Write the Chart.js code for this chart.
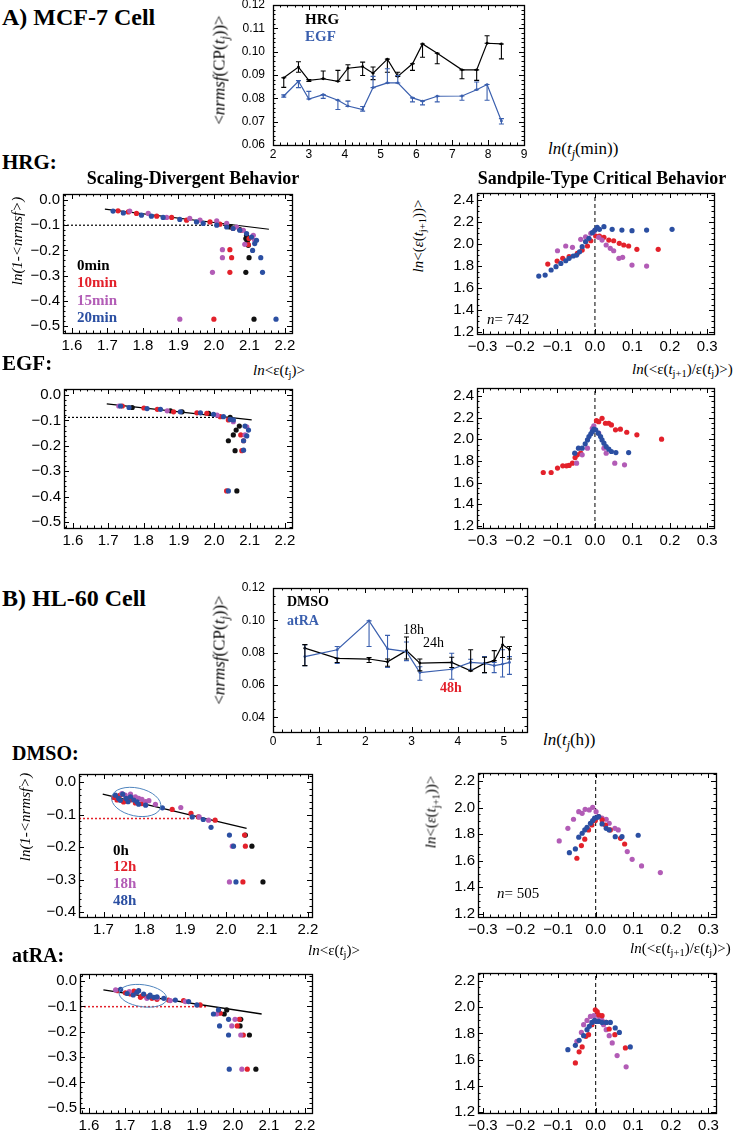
<!DOCTYPE html>
<html><head><meta charset="utf-8">
<script src="https://cdn.jsdelivr.net/npm/chart.js@4.4.1/dist/chart.umd.min.js"></script>
<style>
html,body{margin:0;padding:0;background:#fff;}
#page{position:relative;width:742px;height:1132px;overflow:hidden;background:#fff;}
.t{position:absolute;white-space:nowrap;font-family:"Liberation Serif","Times New Roman",serif;line-height:1;color:#000;}
.t sub{font-size:70%;vertical-align:-0.35em;line-height:0;}
</style></head><body><div id="page"></div>
<script>
// ---------- DATA ----------
// A) MCF-7 top panel
const aTime = [2.30,2.71,3.00,3.40,3.81,4.09,4.50,4.79,5.19,5.48,5.89,6.17,6.58,7.27,7.68,7.97,8.37];
const aHRG   = [0.0888,0.0934,0.0877,0.0884,0.0873,0.0929,0.0936,0.0908,0.0968,0.0894,0.0948,0.1033,0.0993,0.0922,0.0922,0.1036,0.1033];
const aHRGlo = [0.0847,0.0912,0.0872,0.0884,0.0873,0.0877,0.0898,0.0880,0.0912,0.0894,0.0920,0.0976,0.0948,0.0884,0.0877,0.1036,0.0969];
const aHRGhi = [0.0888,0.0957,0.0880,0.0917,0.0920,0.0944,0.0955,0.0934,0.0968,0.0912,0.0948,0.1033,0.0993,0.0922,0.0922,0.1068,0.1033];
const aEGF   = [0.0810,0.0873,0.0797,0.0816,0.0792,0.0767,0.0752,0.0846,0.0866,0.0866,0.0802,0.0788,0.0809,0.0810,0.0837,0.0859,0.0703];
const aEGFlo = [0.0805,0.0846,0.0797,0.0800,0.0752,0.0765,0.0745,0.0846,0.0866,0.0866,0.0785,0.0772,0.0785,0.0792,0.0837,0.0792,0.0690];
const aEGFhi = [0.0815,0.0876,0.0830,0.0816,0.0792,0.0788,0.0765,0.0894,0.0927,0.0898,0.0802,0.0788,0.0809,0.0810,0.0870,0.0859,0.0713];
const aXTicks = [2,3,4,5,6,7,8,9];
const aYTicks = [0.06,0.07,0.08,0.09,0.10,0.11,0.12];

// HRG scaling-divergent
const hrgL_0min  = [[2.045,-0.107],[2.073,-0.117],[2.092,-0.140],[2.090,-0.153],[2.094,-0.164],[2.097,-0.180],[2.099,-0.229],[2.090,-0.287],[2.113,-0.473]];
const hrgL_10min = [[1.730,-0.043],[1.759,-0.047],[1.782,-0.053],[1.839,-0.064],[1.881,-0.069],[1.923,-0.080],[1.989,-0.087],[2.017,-0.096],[2.054,-0.113],[2.078,-0.120],[2.099,-0.153],[2.097,-0.177],[2.045,-0.197],[2.050,-0.229],[2.045,-0.287],[2.000,-0.473]];
const hrgL_15min = [[1.763,-0.044],[1.815,-0.053],[1.867,-0.069],[1.932,-0.073],[1.961,-0.080],[2.008,-0.083],[2.036,-0.093],[2.064,-0.107],[2.083,-0.120],[2.111,-0.140],[2.115,-0.160],[2.087,-0.176],[2.024,-0.197],[2.024,-0.229],[1.996,-0.287],[1.904,-0.473]];
const hrgL_20min = [[1.716,-0.044],[1.745,-0.051],[1.796,-0.060],[1.824,-0.064],[1.857,-0.069],[1.904,-0.077],[1.951,-0.087],[1.970,-0.093],[2.008,-0.100],[2.036,-0.107],[2.054,-0.113],[2.073,-0.120],[2.092,-0.133],[2.106,-0.147],[2.120,-0.160],[2.115,-0.173],[2.109,-0.200],[2.132,-0.229],[2.137,-0.287],[2.175,-0.473]];
const hrgL_fit = [[1.693,-0.036],[2.155,-0.116]];
const hrgL_ref = [[1.575,-0.100],[2.053,-0.100]];

// HRG sandpile
const hrgR_10min = [[-0.126,1.818],[-0.101,1.845],[-0.086,1.870],[-0.069,1.885],[-0.047,1.915],[-0.034,1.945],[-0.020,1.982],[-0.011,2.030],[0.002,2.073],[0.012,2.073],[0.024,2.061],[0.037,2.036],[0.050,2.030],[0.065,2.006],[0.077,1.991],[0.090,1.982],[0.112,1.952],[0.169,1.952]];
const hrgR_15min = [[-0.100,1.939],[-0.078,1.982],[-0.060,1.970],[-0.038,2.043],[-0.025,2.066],[-0.011,2.097],[-0.003,2.112],[0.010,2.061],[0.019,2.036],[0.030,1.991],[0.041,1.961],[0.050,1.939],[0.064,1.870],[0.074,1.879],[0.099,1.809],[0.138,1.800]];
const hrgR_20min = [[-0.150,1.709],[-0.133,1.718],[-0.117,1.764],[-0.104,1.794],[-0.091,1.824],[-0.078,1.848],[-0.069,1.870],[-0.058,1.891],[-0.049,1.900],[-0.041,1.930],[-0.034,1.976],[-0.025,2.021],[-0.016,2.052],[-0.007,2.103],[0.000,2.127],[0.006,2.152],[0.012,2.134],[0.024,2.158],[0.046,2.134],[0.072,2.127],[0.099,2.121],[0.138,2.127],[0.206,2.134]];

// EGF scaling-divergent
const egfL_0min  = [[1.768,-0.049],[1.876,-0.062],[1.909,-0.066],[1.984,-0.072],[2.045,-0.088],[2.071,-0.122],[2.062,-0.138],[2.054,-0.157],[2.040,-0.180],[2.059,-0.219],[2.064,-0.378]];
const egfL_10min = [[1.740,-0.043],[1.801,-0.051],[1.839,-0.056],[1.885,-0.066],[1.951,-0.070],[1.979,-0.072],[2.017,-0.085],[2.040,-0.098],[2.075,-0.157],[2.083,-0.180],[2.078,-0.219],[2.035,-0.378]];
const egfL_15min = [[1.730,-0.043],[1.867,-0.062],[2.008,-0.079],[2.054,-0.105],[2.092,-0.125],[2.087,-0.157]];
const egfL_20min = [[1.735,-0.043],[1.759,-0.049],[1.810,-0.053],[1.848,-0.056],[1.904,-0.066],[1.961,-0.070],[1.998,-0.076],[2.026,-0.085],[2.045,-0.096],[2.054,-0.098],[2.087,-0.122],[2.097,-0.138],[2.092,-0.161],[2.083,-0.180],[2.083,-0.217],[2.040,-0.378]];
const egfL_fit = [[1.696,-0.035],[2.106,-0.098]];
const egfL_ref = [[1.575,-0.088],[2.020,-0.088]];

// EGF sandpile
const egfR_10min = [[-0.138,1.693],[-0.117,1.693],[-0.100,1.734],[-0.086,1.755],[-0.076,1.755],[-0.069,1.758],[-0.060,1.779],[-0.053,1.831],[-0.047,1.856],[-0.038,1.872],[0.004,2.172],[0.010,2.163],[0.019,2.194],[0.028,2.148],[0.037,2.148],[0.044,2.133],[0.055,2.087],[0.068,2.093],[0.085,2.065],[0.112,2.041],[0.178,2.001]];
const egfR_15min = [[-0.049,1.779],[-0.034,1.856],[-0.020,1.918],[-0.007,2.102],[-0.003,2.124],[0.010,2.056],[0.024,1.918],[0.030,1.872],[0.053,1.779],[0.079,1.764]];
const egfR_20min = [[-0.054,1.872],[-0.044,1.918],[-0.034,1.918],[-0.026,1.958],[-0.020,1.994],[-0.016,2.025],[-0.011,2.050],[-0.007,2.071],[-0.003,2.093],[0.002,2.087],[0.009,2.056],[0.015,2.025],[0.019,1.994],[0.024,1.964],[0.030,1.933],[0.037,1.909],[0.044,1.887],[0.056,1.877],[0.090,1.877]];

// B) HL-60 top panel
const bTime = [0.69,1.39,2.08,2.48,2.89,3.18,3.87,4.28,4.58,4.79,4.97,5.12];
const bDMSO   = [0.0828,0.0765,0.0761,0.0744,0.0813,0.0736,0.0740,0.0688,0.0734,0.0751,0.0849,0.0820];
const bDMSOlo = [0.0720,0.0740,0.0740,0.0716,0.0761,0.0688,0.0709,0.0688,0.0677,0.0751,0.0770,0.0761];
const bDMSOhi = [0.0850,0.0765,0.0770,0.0761,0.0897,0.0761,0.0772,0.0818,0.0772,0.0813,0.0897,0.0838];
const bATRA   = [0.0776,0.0818,0.0997,0.0824,0.0807,0.0677,0.0698,0.0740,0.0734,0.0720,0.0730,0.0740];
const bATRAlo = [0.0720,0.0734,0.0838,0.0709,0.0751,0.0630,0.0636,0.0698,0.0677,0.0677,0.0650,0.0666];
const bATRAhi = [0.0850,0.0838,0.0997,0.0907,0.0866,0.0713,0.0797,0.0760,0.0776,0.0740,0.0818,0.0776];
const bXTicks = [0,1,2,3,4,5];
const bYTicks = [0.04,0.06,0.08,0.10,0.12];

// DMSO scaling-divergent
const dmsoL_0h  = [[2.047,-0.163],[2.063,-0.197],[2.090,-0.307]];
const dmsoL_12h = [[1.725,-0.047],[1.733,-0.055],[1.737,-0.043],[1.741,-0.040],[1.749,-0.061],[1.753,-0.058],[1.757,-0.050],[1.766,-0.055],[1.770,-0.049],[1.778,-0.064],[1.794,-0.066],[1.868,-0.084],[1.914,-0.096],[1.932,-0.107],[1.973,-0.117],[2.045,-0.163],[2.047,-0.197],[2.041,-0.307]];
const dmsoL_18h = [[1.745,-0.035],[1.753,-0.040],[1.766,-0.037],[1.778,-0.045],[1.786,-0.050],[1.794,-0.053],[1.803,-0.060],[1.811,-0.057],[1.827,-0.068],[1.889,-0.078],[1.934,-0.107],[1.957,-0.117],[2.015,-0.197],[2.008,-0.307]];
const dmsoL_48h = [[1.729,-0.040],[1.737,-0.050],[1.741,-0.056],[1.747,-0.037],[1.755,-0.050],[1.760,-0.060],[1.766,-0.045],[1.774,-0.055],[1.782,-0.061],[1.786,-0.068],[1.803,-0.071],[1.844,-0.079],[1.917,-0.107],[1.944,-0.115],[1.963,-0.139],[2.008,-0.163],[2.018,-0.197],[2.024,-0.307]];
const dmsoL_fit = [[1.698,-0.037],[2.050,-0.142]];
const dmsoL_ref = [[1.640,-0.112],[1.917,-0.112]];
const dmsoL_ellipse = [1.780,-0.061];

// DMSO sandpile
const dmsoR_12h = [[-0.050,1.619],[-0.038,1.714],[-0.029,1.762],[-0.019,1.832],[-0.010,1.869],[-0.001,1.902],[0.008,1.932],[0.017,1.907],[0.026,1.869],[0.039,1.832],[0.066,1.769],[0.077,1.726]];
const dmsoR_18h = [[-0.097,1.749],[-0.074,1.844],[-0.059,1.912],[-0.045,1.969],[-0.036,1.957],[-0.028,1.987],[-0.017,1.982],[-0.008,2.002],[0.001,1.969],[0.017,1.920],[0.028,1.912],[0.036,1.882],[0.051,1.844],[0.060,1.832],[0.084,1.669],[0.097,1.611],[0.122,1.561],[0.172,1.511]];
const dmsoR_48h = [[-0.070,1.661],[-0.054,1.689],[-0.045,1.777],[-0.036,1.807],[-0.029,1.832],[-0.023,1.852],[-0.014,1.882],[-0.008,1.902],[-0.003,1.920],[0.004,1.927],[0.008,1.932],[0.017,1.877],[0.028,1.844],[0.036,1.832],[0.052,1.781],[0.070,1.781],[0.113,1.792]];

// atRA scaling-divergent
const atraL_0h  = [[1.983,-0.114],[1.976,-0.130],[2.022,-0.151],[2.020,-0.177],[2.046,-0.213],[2.064,-0.348]];
const atraL_12h = [[1.680,-0.038],[1.701,-0.046],[1.715,-0.051],[1.725,-0.040],[1.729,-0.046],[1.743,-0.064],[1.748,-0.058],[1.761,-0.062],[1.775,-0.068],[1.789,-0.072],[1.821,-0.075],[1.863,-0.077],[1.909,-0.094],[1.965,-0.127],[2.018,-0.151],[2.012,-0.177],[2.029,-0.213],[2.040,-0.348]];
const atraL_18h = [[1.674,-0.035],[1.712,-0.042],[1.761,-0.068],[1.790,-0.066],[1.826,-0.077],[1.868,-0.081],[1.955,-0.130],[2.006,-0.151],[1.997,-0.177],[2.022,-0.213],[2.025,-0.348]];
const atraL_48h = [[1.688,-0.033],[1.706,-0.049],[1.723,-0.055],[1.733,-0.044],[1.738,-0.038],[1.752,-0.051],[1.766,-0.062],[1.770,-0.055],[1.780,-0.064],[1.789,-0.062],[1.808,-0.068],[1.840,-0.075],[1.877,-0.081],[1.900,-0.094],[1.946,-0.130],[1.960,-0.114],[1.988,-0.151],[1.963,-0.177],[1.988,-0.213],[1.990,-0.348]];
const atraL_fit = [[1.640,-0.035],[2.080,-0.130]];
const atraL_ref = [[1.575,-0.101],[1.928,-0.101]];
const atraL_ellipse = [1.750,-0.058];

// atRA sandpile
const atraR_12h = [[-0.054,1.576],[-0.044,1.660],[-0.036,1.698],[-0.026,1.778],[-0.019,1.791],[-0.010,1.867],[-0.001,1.980],[0.004,1.967],[0.008,1.942],[0.017,1.935],[0.028,1.884],[0.036,1.834],[0.051,1.791],[0.079,1.690]];
const atraR_18h = [[-0.050,1.740],[-0.038,1.808],[-0.032,1.867],[-0.023,1.899],[-0.014,1.930],[-0.005,1.935],[0.008,1.930],[0.017,1.899],[0.021,1.867],[0.028,1.829],[0.036,1.783],[0.044,1.728],[0.057,1.632],[0.081,1.546]];
const atraR_48h = [[-0.074,1.677],[-0.054,1.710],[-0.044,1.748],[-0.032,1.783],[-0.023,1.829],[-0.017,1.854],[-0.010,1.884],[-0.003,1.899],[0.001,1.892],[0.008,1.892],[0.017,1.884],[0.028,1.884],[0.039,1.884],[0.052,1.842],[0.063,1.808],[0.092,1.698]];

// tick label values
const divXTicks = [1.6,1.7,1.8,1.9,2.0,2.1,2.2];
const divXTicksB = [1.7,1.8,1.9,2.0,2.1,2.2];
const divYTicks = [0.0,-0.1,-0.2,-0.3,-0.4,-0.5];
const divYTicksB = [0.0,-0.1,-0.2,-0.3,-0.4];
const sandXTicks = [-0.3,-0.2,-0.1,0.0,0.1,0.2,0.3];
const sandYTicksA = [1.2,1.4,1.6,1.8,2.0,2.2,2.4];
const sandYTicksB = [1.2,1.4,1.6,1.8,2.0,2.2];

// ---------- STYLE ----------
const SANS = '"Liberation Sans", Arial, Helvetica, sans-serif';
const C_BLACK = '#111111', C_RED = '#e3212b', C_PURPLE = '#b25cb6', C_BLUE = '#2b4fa2', C_LBLUE = '#3a5fae';
const page = document.getElementById('page');

const fmt = d => v => Number(v).toFixed(d).replace('-', '\u2212');
const P = arr => arr.map(([x, y]) => ({x, y}));
const zip = (xs, ys) => xs.map((x, i) => [x, ys[i]]);
const dots = (arr, col, r = 2.6) => ({data: P(arr), backgroundColor: col, borderColor: col, borderWidth: 0, pointRadius: r, pointHoverRadius: r});
const line = (arr, col, w = 1, dash = []) => ({data: P(arr), showLine: true, borderColor: col, borderWidth: w, borderDash: dash, pointRadius: 0, fill: false});

const framePlugin = {
  id: 'frame',
  afterDatasetsDraw(chart, args, o) {
    const {ctx, chartArea: a, scales: {x, y}} = chart;
    ctx.save();
    ctx.strokeStyle = '#000';
    ctx.lineWidth = 1;
    const axis = (s, step, sub, horiz) => {
      const ms = step / sub;
      const k0 = Math.ceil(s.min / ms - 1e-6), k1 = Math.floor(s.max / ms + 1e-6);
      for (let k = k0; k <= k1; k++) {
        const major = Math.abs(k % sub) === 0;
        const len = major ? 5 : 2.5;
        const p = Math.round(s.getPixelForValue(k * ms)) + 0.5;
        ctx.beginPath();
        if (horiz) { ctx.moveTo(p, a.bottom); ctx.lineTo(p, a.bottom - len); ctx.moveTo(p, a.top); ctx.lineTo(p, a.top + len); }
        else { ctx.moveTo(a.left, p); ctx.lineTo(a.left + len, p); ctx.moveTo(a.right, p); ctx.lineTo(a.right - len, p); }
        ctx.stroke();
      }
    };
    axis(x, o.xs, o.xsub, true);
    axis(y, o.ys, o.ysub, false);
    ctx.lineWidth = 1.3;
    ctx.strokeRect(Math.round(a.left) + 0.5, Math.round(a.top) + 0.5, Math.round(a.right - a.left), Math.round(a.bottom - a.top));
    ctx.restore();
  }
};
const errPlugin = {
  id: 'errbars',
  afterDatasetsDraw(chart) {
    const {ctx, scales: {x, y}} = chart;
    chart.data.datasets.forEach(ds => {
      if (!ds.errLo) return;
      ctx.save(); ctx.strokeStyle = ds.borderColor; ctx.lineWidth = 1.1;
      ds.data.forEach((pt, j) => {
        const px = x.getPixelForValue(pt.x);
        const y1 = y.getPixelForValue(ds.errLo[j]), y2 = y.getPixelForValue(ds.errHi[j]);
        if (Math.abs(y1 - y2) < 1) return;
        ctx.beginPath();
        ctx.moveTo(px, y1); ctx.lineTo(px, y2);
        ctx.moveTo(px - 2.5, y1); ctx.lineTo(px + 2.5, y1);
        ctx.moveTo(px - 2.5, y2); ctx.lineTo(px + 2.5, y2);
        ctx.stroke();
      });
      ctx.restore();
    });
  }
};
const ellipsePlugin = {
  id: 'ellipse',
  afterDatasetsDraw(chart, args, o) {
    if (!o || !o.c) return;
    const {ctx, scales: {x, y}} = chart;
    ctx.save(); ctx.strokeStyle = '#4f84bd'; ctx.lineWidth = 1;
    ctx.beginPath();
    ctx.ellipse(x.getPixelForValue(o.c[0]), y.getPixelForValue(o.c[1]), o.rx, o.ry, o.rot * Math.PI / 180, 0, Math.PI * 2);
    ctx.stroke(); ctx.restore();
  }
};

function panel(box, o) {
  const padT = 8, padR = 10, yW = 46, xH = 26;
  const W = box.R - box.L + yW + padR, H = box.B - box.T + padT + xH;
  const cv = document.createElement('canvas');
  cv.width = W; cv.height = H;
  cv.style.cssText = `position:absolute;left:${box.L - yW}px;top:${box.T - padT}px;width:${W}px;height:${H}px;`;
  page.appendChild(cv);
  const axisBase = (fs, pad, d, ticks) => ({
    type: 'linear',
    grid: {display: false, drawTicks: false}, border: {display: false},
    ticks: {color: '#000', font: {family: SANS, size: fs}, padding: pad, maxRotation: 0, minRotation: 0, autoSkip: false, callback: fmt(d)},
    afterBuildTicks: s => { s.ticks = ticks.map(v => ({value: v})); }
  });
  new Chart(cv.getContext('2d'), {
    type: 'scatter',
    data: {datasets: o.datasets},
    plugins: [framePlugin, errPlugin, ellipsePlugin],
    options: {
      responsive: false, animation: false, devicePixelRatio: 1,
      layout: {padding: {top: padT, right: padR, left: 0, bottom: 0}},
      plugins: {legend: {display: false}, tooltip: {enabled: false}, frame: o.frame, ellipse: o.ellipse || {}},
      scales: {
        x: Object.assign(axisBase(o.fs, o.xPad, o.xd, o.xt), {min: o.xr[0], max: o.xr[1],
          afterFit: s => { s.height = xH; s.paddingLeft = 0; s.paddingRight = 0; }}),
        y: Object.assign(axisBase(o.fs, o.yPad, o.yd, o.yt), {min: o.yr[0], max: o.yr[1],
          afterFit: s => { s.width = yW; s.paddingTop = 0; s.paddingBottom = 0; }})
      }
    }
  });
}

function txt(html, x, y, o = {}) {
  const d = document.createElement('div');
  d.className = 't'; d.innerHTML = html;
  d.style.left = x + 'px'; d.style.top = y + 'px';
  d.style.fontSize = (o.fs || 15) + 'px';
  if (o.b) d.style.fontWeight = 'bold';
  if (o.c) d.style.color = o.c;
  d.style.transform = o.rot ? 'translate(-50%,-50%) rotate(-90deg)' : (o.center ? 'translate(-50%,-50%)' : 'translateY(-50%)');
  page.appendChild(d);
}

// ---------- PANELS ----------
const topFrame = (xs, xsub, ys, ysub) => ({xs, xsub, ys, ysub});
const withErr = (arr, col, lo, hi) => Object.assign(line(arr, col, 1.2), {pointRadius: 1.4, pointBackgroundColor: col, pointBorderWidth: 0, errLo: lo, errHi: hi});

panel({L: 273, T: 5, R: 524, B: 145}, {
  fs: 12, xPad: 2, yPad: 8, xd: 0, yd: 2, xt: aXTicks, yt: aYTicks, xr: [2, 9], yr: [0.06, 0.12],
  frame: topFrame(1, 5, 0.01, 5),
  datasets: [withErr(zip(aTime, aHRG), '#000', aHRGlo, aHRGhi), withErr(zip(aTime, aEGF), C_LBLUE, aEGFlo, aEGFhi)]
});

const divFrame = {xs: 0.1, xsub: 5, ys: 0.1, ysub: 5};
const sandFrame = {xs: 0.1, xsub: 5, ys: 0.2, ysub: 4};
const sandCommon = {fs: 15, xPad: 4, yPad: 3, xd: 1, yd: 1, xt: sandXTicks, frame: sandFrame};
const divCommon = {fs: 15, xPad: 4, yPad: 3, xd: 1, yd: 1, frame: divFrame};

panel({L: 63, T: 194, R: 292, B: 333}, Object.assign({}, divCommon, {
  xt: divXTicks, yt: divYTicks, xr: [1.575, 2.22], yr: [-0.528, 0.024],
  datasets: [dots(hrgL_20min, C_BLUE), dots(hrgL_15min, C_PURPLE), dots(hrgL_10min, C_RED), dots(hrgL_0min, C_BLACK),
    line(hrgL_fit, '#000', 1.2), line(hrgL_ref, '#000', 1.2, [2, 2])]
}));
panel({L: 477, T: 193, R: 714, B: 334}, Object.assign({}, sandCommon, {
  yt: sandYTicksA, xr: [-0.315, 0.318], yr: [1.182, 2.464],
  datasets: [dots(hrgR_20min, C_BLUE), dots(hrgR_15min, C_PURPLE), dots(hrgR_10min, C_RED),
    line([[0, 1.182], [0, 2.464]], '#000', 1, [4, 3])]
}));
panel({L: 64, T: 389, R: 292, B: 528}, Object.assign({}, divCommon, {
  xt: divXTicks, yt: divYTicks, xr: [1.575, 2.22], yr: [-0.524, 0.024],
  datasets: [dots(egfL_20min, C_BLUE), dots(egfL_15min, C_PURPLE), dots(egfL_10min, C_RED), dots(egfL_0min, C_BLACK),
    line(egfL_fit, '#000', 1.2), line(egfL_ref, '#000', 1.2, [2, 2])]
}));
panel({L: 477, T: 388, R: 714, B: 528}, Object.assign({}, sandCommon, {
  yt: sandYTicksA, xr: [-0.315, 0.318], yr: [1.18, 2.474],
  datasets: [dots(egfR_20min, C_BLUE), dots(egfR_15min, C_PURPLE), dots(egfR_10min, C_RED),
    line([[0, 1.18], [0, 2.474]], '#000', 1, [4, 3])]
}));

panel({L: 273, T: 588, R: 527, B: 732}, {
  fs: 12, xPad: 2, yPad: 8, xd: 0, yd: 2, xt: bXTicks, yt: bYTicks, xr: [0, 5.5], yr: [0.031, 0.12],
  frame: topFrame(1, 5, 0.02, 4),
  datasets: [withErr(zip(bTime, bATRA), C_LBLUE, bATRAlo, bATRAhi), withErr(zip(bTime, bDMSO), '#000', bDMSOlo, bDMSOhi)]
});

panel({L: 79, T: 774, R: 312, B: 917}, Object.assign({}, divCommon, {
  xt: divXTicksB, yt: divYTicksB, xr: [1.64, 2.21], yr: [-0.415, 0.025],
  ellipse: {c: dmsoL_ellipse, rx: 25, ry: 14, rot: 12},
  datasets: [dots(dmsoL_48h, C_BLUE), dots(dmsoL_18h, C_PURPLE), dots(dmsoL_12h, C_RED), dots(dmsoL_0h, C_BLACK),
    line(dmsoL_fit, '#000', 1.3), line(dmsoL_ref, C_RED, 1.5, [2, 2])]
}));
panel({L: 478, T: 773, R: 716, B: 917}, Object.assign({}, sandCommon, {
  yt: sandYTicksB, xr: [-0.313, 0.32], yr: [1.177, 2.26],
  datasets: [dots(dmsoR_48h, C_BLUE), dots(dmsoR_12h, C_RED), dots(dmsoR_18h, C_PURPLE),
    line([[0, 1.177], [0, 2.26]], '#000', 1, [4, 3])]
}));
panel({L: 80, T: 974, R: 312, B: 1113}, Object.assign({}, divCommon, {
  xt: divXTicks, yt: divYTicks, xr: [1.575, 2.22], yr: [-0.521, 0.028],
  ellipse: {c: atraL_ellipse, rx: 24, ry: 11, rot: 8},
  datasets: [dots(atraL_48h, C_BLUE), dots(atraL_18h, C_PURPLE), dots(atraL_12h, C_RED), dots(atraL_0h, C_BLACK),
    line(atraL_fit, '#000', 1.3), line(atraL_ref, C_RED, 1.5, [2, 2])]
}));
panel({L: 478, T: 973, R: 716, B: 1113}, Object.assign({}, sandCommon, {
  yt: sandYTicksB, xr: [-0.313, 0.32], yr: [1.195, 2.26],
  datasets: [dots(atraR_48h, C_BLUE), dots(atraR_12h, C_RED), dots(atraR_18h, C_PURPLE),
    line([[0, 1.195], [0, 2.26]], '#000', 1, [4, 3])]
}));

// ---------- TEXT ----------
const yTop = '&lt;<i>nrmsf</i>(CP(<i>t<sub>j</sub></i>))&gt;';
const yDiv = '<i>ln(1-&lt;nrmsf&gt;)</i>';
const ySand = '<i>ln</i>&lt;(<i>ε</i>(<i>t</i><sub>j+1</sub>))&gt;';
const xDiv = '<i>ln</i>&lt;ε(<i>t</i><sub>j</sub>)&gt;';
const xSand = '<i>ln</i>(&lt;ε(<i>t</i><sub>j+1</sub>)/ε(<i>t</i><sub>j</sub>)&gt;)';

txt('A) MCF-7 Cell', 2, 17, {fs: 24, b: true});
txt(yTop, 219, 70, {fs: 17, rot: true});
txt('HRG', 305, 19, {fs: 15, b: true});
txt('EGF', 305, 36, {fs: 15, b: true, c: C_LBLUE});
txt('<i>ln</i>(<i>t<sub>j</sub></i>(min))', 548, 148, {fs: 17});

txt('HRG:', 2, 162, {fs: 21, b: true});
txt('Scaling-Divergent Behavior', 193, 178, {fs: 18, b: true, center: true});
txt('Sandpile-Type Critical Behavior', 602, 178, {fs: 18, b: true, center: true});
txt(yDiv, 17, 241, {fs: 15, rot: true});
txt('0min', 77, 265, {fs: 15, b: true});
txt('10min', 77, 282, {fs: 15, b: true, c: C_RED});
txt('15min', 77, 300, {fs: 15, b: true, c: C_PURPLE});
txt('20min', 77, 317, {fs: 15, b: true, c: C_BLUE});
txt(ySand, 418, 236, {fs: 15, rot: true});
txt('<i>n</i>= 742', 487, 319, {fs: 15});

txt('EGF:', 2, 363, {fs: 21, b: true});
txt(xDiv, 253, 370, {fs: 15});
txt(xSand, 632, 369, {fs: 15});

txt('B) HL-60 Cell', 2, 598, {fs: 24, b: true});
txt(yTop, 219, 650, {fs: 17, rot: true});
txt('DMSO', 287, 602, {fs: 14, b: true});
txt('atRA', 287, 621, {fs: 14, b: true, c: C_LBLUE});
txt('18h', 403, 630, {fs: 14});
txt('24h', 423, 643, {fs: 14});
txt('48h', 440, 688, {fs: 14, b: true, c: C_RED});
txt('<i>ln</i>(<i>t<sub>j</sub></i>(h))', 543, 739, {fs: 17});

txt('DMSO:', 12, 753, {fs: 20, b: true});
txt(yDiv, 25, 817, {fs: 15, rot: true});
txt('0h', 113, 850, {fs: 15, b: true});
txt('12h', 113, 866, {fs: 15, b: true, c: C_RED});
txt('18h', 113, 883, {fs: 15, b: true, c: C_PURPLE});
txt('48h', 113, 900, {fs: 15, b: true, c: C_BLUE});
txt(ySand, 431, 812, {fs: 15, rot: true});
txt('<i>n</i>= 505', 497, 893, {fs: 15});

txt(xDiv, 308, 950, {fs: 15});
txt(xSand, 630, 948, {fs: 15});
txt('atRA:', 12, 955, {fs: 20, b: true});
</script></body></html>
